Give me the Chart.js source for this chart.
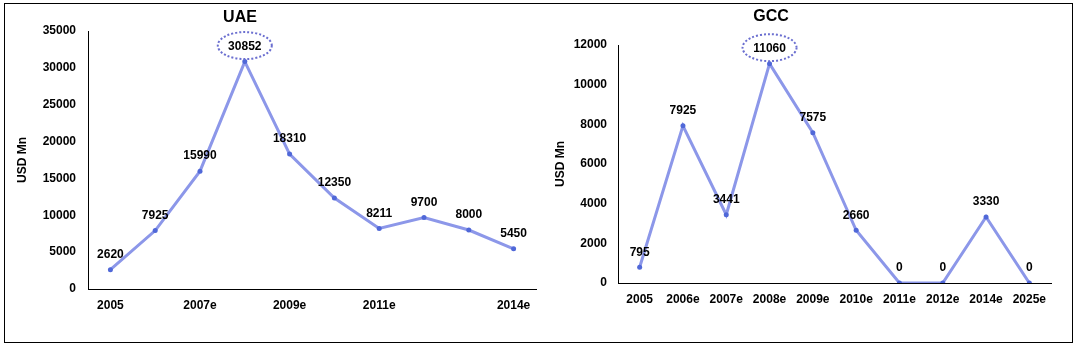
<!DOCTYPE html>
<html>
<head>
<meta charset="utf-8">
<script src="https://cdn.jsdelivr.net/npm/chart.js@4.4.0/dist/chart.umd.min.js"></script>
<style>
  body { margin: 0; background: #fff; }
  #frame { position: absolute; left: 4px; top: 3px; width: 1067px; height: 338px; border: 1px solid #000; }
  .panel { position: absolute; top: 4px; height: 338px; }
  #uaeWrap { left: 5px; width: 535px; }
  #gccWrap { left: 540px; width: 530px; }
</style>
</head>
<body>
<div id="frame"></div>
<div class="panel" id="uaeWrap"><canvas id="uaeChart"></canvas></div>
<div class="panel" id="gccWrap"><canvas id="gccChart"></canvas></div>
<script>
// UAE series
const uaeYears = ['2005', '2006e', '2007e', '2008e', '2009e', '2010e', '2011e', '2012e', '2013e', '2014e'];
const uaeTickLabels = ['2005', '', '2007e', '', '2009e', '', '2011e', '', '', '2014e'];
const uaeValues = [2620, 7925, 15990, 30852, 18310, 12350, 8211, 9700, 8000, 5450];

// GCC series
const gccYears = ['2005', '2006e', '2007e', '2008e', '2009e', '2010e', '2011e', '2012e', '2014e', '2025e'];
const gccValues = [795, 7925, 3441, 11060, 7575, 2660, 0, 0, 3330, 0];

const FONT = "'Liberation Sans', Arial, sans-serif";
const LINE_COLOR = '#8c97e9';
const POINT_COLOR = '#5068d8';

// draws the value above every point, and a dotted ring round the peak
const valueLabels = {
  id: 'valueLabels',
  afterDatasetsDraw(chart) {
    const ctx = chart.ctx;
    const meta = chart.getDatasetMeta(0);
    const data = chart.data.datasets[0].data;
    const peak = data.indexOf(Math.max(...data));
    ctx.save();
    ctx.font = 'bold 12px ' + FONT;
    ctx.fillStyle = '#000';
    ctx.textAlign = 'center';
    ctx.textBaseline = 'middle';
    meta.data.forEach((pt, i) => {
      const y = pt.y - 15;
      ctx.fillText(String(data[i]), pt.x, y);
      if (i === peak) {
        ctx.beginPath();
        ctx.setLineDash([2, 2]);
        ctx.lineWidth = 2;
        ctx.strokeStyle = '#6b6fd0';
        ctx.ellipse(pt.x, y - 1, 27, 13.5, 0, 0, Math.PI * 2);
        ctx.stroke();
        ctx.setLineDash([]);
      }
    });
    ctx.restore();
  }
};

// chart heading, placed where the source places it
const panelTitle = {
  id: 'panelTitle',
  afterDraw(chart, args, opts) {
    const ctx = chart.ctx;
    ctx.save();
    ctx.font = 'bold 16px ' + FONT;
    ctx.fillStyle = '#000';
    ctx.textAlign = 'center';
    ctx.textBaseline = 'middle';
    ctx.fillText(opts.text, opts.x, opts.y);
    ctx.restore();
  }
};

function createLineChart(canvasId, labels, tickLabels, values, cfg) {
  const ctx = document.getElementById(canvasId).getContext('2d');
  new Chart(ctx, {
    type: 'line',
    data: {
      labels,
      datasets: [{
        data: values,
        borderColor: LINE_COLOR,
        borderWidth: 3,
        pointRadius: 2.5,
        pointBackgroundColor: POINT_COLOR,
        pointBorderColor: POINT_COLOR,
        pointBorderWidth: 0,
        tension: 0
      }]
    },
    options: {
      responsive: true,
      maintainAspectRatio: false,
      animation: false,
      layout: { padding: cfg.padding },
      plugins: {
        legend: { display: false },
        tooltip: { enabled: false },
        panelTitle: cfg.title
      },
      scales: {
        x: {
          offset: true,
          grid: { display: false, drawTicks: false },
          border: { color: '#000', width: 1 },
          afterFit: s => { s.height = 30; },
          ticks: {
            autoSkip: false,
            maxRotation: 0,
            padding: 9,
            color: '#000',
            font: { family: FONT, size: 12, weight: 'bold' },
            callback: (v, i) => tickLabels[i]
          }
        },
        y: {
          min: 0,
          max: cfg.yMax,
          grid: { display: false, drawTicks: false },
          border: { color: '#000', width: 1 },
          afterFit: s => { s.width = cfg.yWidth; },
          ticks: {
            stepSize: cfg.yStep,
            padding: cfg.tickPad,
            color: '#000',
            font: { family: FONT, size: 12, weight: 'bold' },
            callback: v => String(v)
          },
          title: {
            display: true,
            text: 'USD Mn',
            color: '#000',
            padding: { top: cfg.titlePad, bottom: 0 },
            font: { family: FONT, size: 12, weight: 'bold' }
          }
        }
      }
    },
    plugins: [valueLabels, panelTitle]
  });
}

createLineChart('uaeChart', uaeYears, uaeTickLabels, uaeValues, {
  padding: { left: 0, top: 27, right: 3, bottom: 23 },
  title: { text: 'UAE', x: 235, y: 14 },
  yMax: 35000, yStep: 5000, yWidth: 83, tickPad: 12, titlePad: 10
});

createLineChart('gccChart', gccYears, gccYears, gccValues, {
  padding: { left: 0, top: 41, right: 19, bottom: 29 },
  title: { text: 'GCC', x: 231, y: 13 },
  yMax: 12000, yStep: 2000, yWidth: 78, tickPad: 11, titlePad: 13
});
</script>
</body>
</html>
